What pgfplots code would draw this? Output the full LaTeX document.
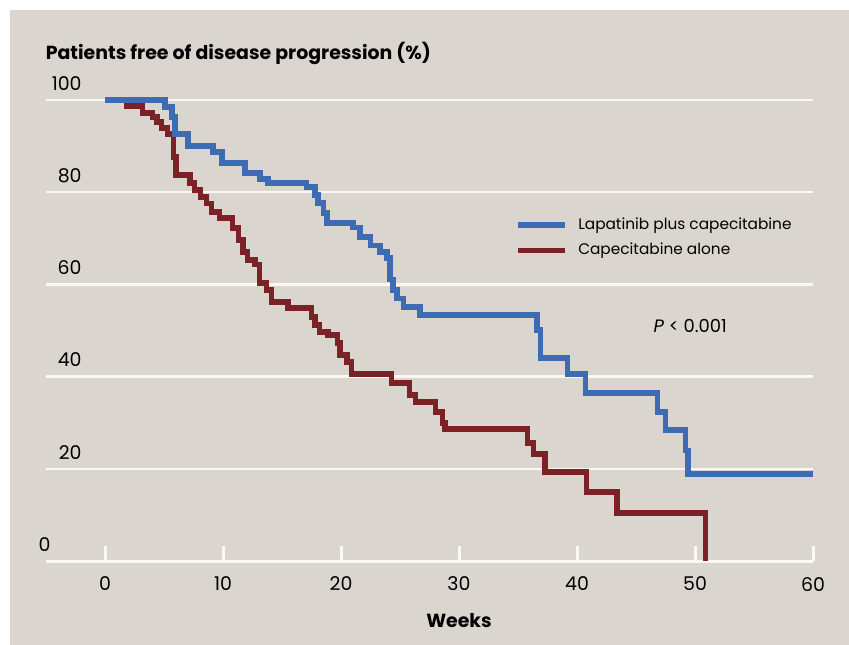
\documentclass[border=0pt]{standalone}
\usepackage{pgfplots}
\pgfplotsset{compat=1.18}
\usepackage{fontspec}
\setmainfont{Poppins}
\definecolor{bgc}{RGB}{218,213,206}
\definecolor{bluec}{RGB}{61,108,180}
\definecolor{redc}{RGB}{124,33,38}
\definecolor{gridc}{RGB}{250,248,242}
\begin{document}
\begin{tikzpicture}
\useasboundingbox (0,0) rectangle (424.5bp,322.5bp);
\fill[white] (0,0) rectangle (424.5bp,322.5bp);
\fill[bgc] (5bp,0) rectangle (424.5bp,317.5bp);
\begin{axis}[
  at={(23bp,42bp)}, anchor=south west,
  width=383.5bp, height=230.5bp, scale only axis,
  xmin=-5, xmax=60, ymin=0, ymax=100,
  clip=false,
  axis x line*=bottom, axis y line*=left,
  x axis line style={gridc, line width=1.5bp, -},
  y axis line style={draw=none},
  xtick={0,10,...,60},
  ytick={0,20,...,100},
  yticklabels={},
  ymajorgrids,
  grid style={gridc, line width=1.2bp},
  major tick length=7.5bp,
  tick align=inside,
  xtick style={gridc, line width=1.5bp},
  ytick style={draw=none},
  xticklabel style={font=\fontsize{9.5}{11}\selectfont, yshift=-4.5bp},
  /pgf/number format/assume math mode=true,
  legend style={draw=none, fill=none, inner sep=0pt,
    at={(axis cs:34.7,75.0)}, anchor=north west,
    font=\fontsize{7.7}{9.5}\selectfont, row sep=3.3bp, column sep=4.5bp,
    nodes={inner sep=1pt}},
  legend cell align=left,
  reverse legend,
  legend image code/.code={\draw[#1, line width=2.7bp] (0bp,0bp) -- (23.5bp,0bp);},
]
\addplot[const plot, redc, line width=2.7bp, line join=miter] coordinates {
(0,100) (1.8,98.7) (3.2,97.2) (4.0,96.3) (4.4,95.2) (4.8,93.9) (5.3,92.6)
(5.8,87.6) (6.0,83.7) (7.2,82.0) (7.6,80.5) (8.1,79.0) (8.6,77.5) (9.0,75.7)
(9.7,74.4) (10.8,72.2) (11.3,69.6) (11.7,67.0) (12.1,65.3) (12.7,64.3)
(13.1,60.3) (13.7,58.8) (14.1,56.2) (15.5,54.9) (17.5,52.9) (17.8,51.2)
(18.2,49.7) (18.9,49.0) (19.7,47.3) (19.9,44.7) (20.5,43.2) (20.9,40.6)
(24.3,38.6) (25.8,36.0) (26.3,34.5) (28.0,32.3) (28.6,29.9) (28.8,28.6)
(35.8,25.6) (36.3,23.2) (37.3,19.3) (40.8,15.0) (43.4,10.4) (50.9,0)
};
\addlegendentry{Capecitabine alone}
\addplot[const plot, bluec, line width=2.7bp, line join=miter] coordinates {
(0,100) (5.08,98.5) (5.68,96.3) (5.93,92.6) (7.03,90.0) (9.15,88.7)
(9.92,86.3) (11.86,84.2) (13.14,82.9) (13.8,82.0) (17.1,81.1) (17.8,79.4)
(18.05,77.7) (18.5,75.5) (18.8,73.3) (21.0,72.4) (21.6,70.3) (22.5,68.5)
(23.3,67.0) (23.9,65.7) (24.15,61.0) (24.4,58.8) (24.75,57.0) (25.3,55.1)
(26.7,53.4) (36.6,50.1) (36.9,44.0) (39.2,40.6) (40.7,36.4) (46.8,32.3)
(47.5,28.4) (49.2,24.0) (49.4,18.9) (60,18.9)
};
\addlegendentry{Lapatinib plus capecitabine}
\node[anchor=south east, inner sep=0pt, font=\fontsize{9.5}{11}\selectfont] at (axis cs:-1.95,102.0) {100};
\node[anchor=south east, inner sep=0pt, font=\fontsize{9.5}{11}\selectfont] at (axis cs:-1.95,82.0) {80};
\node[anchor=south east, inner sep=0pt, font=\fontsize{9.5}{11}\selectfont] at (axis cs:-1.95,62.0) {60};
\node[anchor=south east, inner sep=0pt, font=\fontsize{9.5}{11}\selectfont] at (axis cs:-1.95,42.0) {40};
\node[anchor=south east, inner sep=0pt, font=\fontsize{9.5}{11}\selectfont] at (axis cs:-1.95,22.0) {20};
\node[anchor=south east, inner sep=0pt, font=\fontsize{9.5}{11}\selectfont] at (axis cs:-4.58,2.0) {0};
\node[anchor=center, inner sep=0pt, font=\fontsize{9}{11}\selectfont] at (axis cs:49.6,51.0) {\textit{P} < 0.001};
\node[anchor=center, inner sep=0pt, font=\bfseries\fontsize{9.5}{11}\selectfont, yshift=-30bp] at (axis cs:30,0) {Weeks};
\node[anchor=west, inner sep=0pt, font=\bfseries\fontsize{9.5}{11}\selectfont] at (axis cs:-5.05,110.0) {Patients free of disease progression (\%)};
\end{axis}
\end{tikzpicture}
\end{document}
